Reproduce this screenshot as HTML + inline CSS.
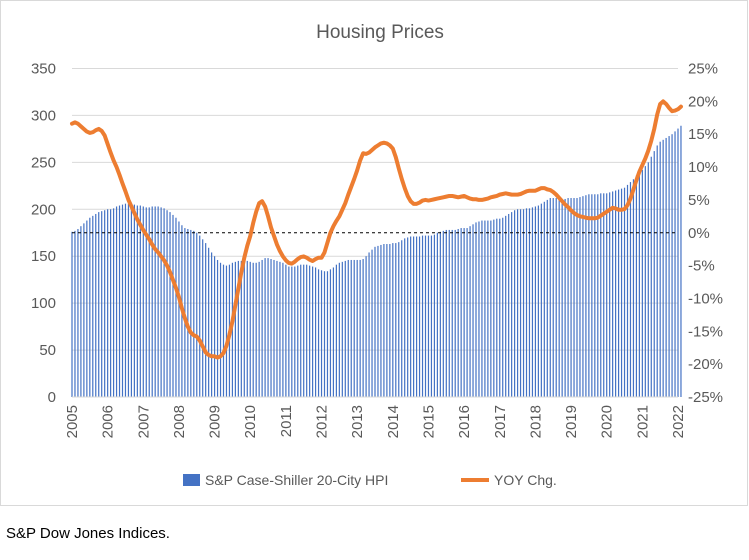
<!DOCTYPE html>
<html><head><meta charset="utf-8">
<style>
body{margin:0;background:#fff;width:749px;height:555px;overflow:hidden;font-family:"Liberation Sans",sans-serif;}
svg text{font-family:"Liberation Sans",sans-serif;}
</style></head>
<body>
<svg id="chart" width="749" height="555" viewBox="0 0 749 555" xmlns="http://www.w3.org/2000/svg">
<rect x="0.5" y="0.5" width="747" height="505" fill="#fff" stroke="#d9d9d9"/>
<text x="380" y="38" text-anchor="middle" font-size="19" fill="#595959">Housing Prices</text>
<g id="grid"></g><g id="bars"></g><g id="axes"></g><g id="line"></g>
<g>
<rect x="183" y="474" width="17" height="12" fill="#4472c4"/>
<text x="205" y="485" font-size="14" fill="#595959">S&amp;P Case-Shiller 20-City HPI</text>
<line x1="461" y1="480" x2="489" y2="480" stroke="#ed7d31" stroke-width="4"/>
<text x="494" y="485" font-size="14" fill="#595959">YOY Chg.</text>
</g>
<text x="6" y="538" font-size="15" fill="#000">S&amp;P Dow Jones Indices.</text>
</svg>
<script>
const hpi=[176,177,179,182,185,188,191,193,195,197,198,199,
200,200,201,203,204,205,206,206,206,205,204,204,
203,202,202,203,203,203,202,201,199,197,194,191,
187,183,180,179,178,177,175,172,168,164,159,154,
150,146,143,141,140,141,143,144,145,145,145,145,
144,143,143,144,146,148,148,147,146,145,144,143,
141,139,139,139,140,141,141,141,140,139,138,136,
135,134,134,136,138,141,143,144,145,146,146,146,
146,146,147,150,154,157,160,161,162,163,163,163,
164,164,165,167,169,170,171,171,171,171,172,172,
172,172,173,175,176,177,178,178,178,178,179,180,
180,180,182,184,186,187,188,188,188,188,189,190,
190,191,193,195,197,199,200,200,200,201,201,202,
203,204,206,208,210,212,212,212,211,211,211,212,
212,212,212,213,214,215,216,216,216,216,217,217,
217,218,219,220,221,222,223,226,229,232,236,239,
242,246,250,256,262,268,272,274,276,278,280,283,
286,289];
const yoy=[16.6,16.8,16.6,16.2,15.8,15.4,15.2,15.3,15.6,15.8,15.5,14.8,
13.5,12.2,11.0,10.0,8.8,7.5,6.3,5.0,4.0,3.0,2.0,1.2,
0.4,-0.3,-1.0,-1.8,-2.5,-3.0,-3.6,-4.2,-5.0,-6.0,-7.2,-8.4,
-9.8,-11.5,-13.0,-14.3,-15.2,-15.6,-15.8,-16.4,-17.3,-18.2,-18.6,-18.8,
-18.8,-19.0,-18.8,-18.3,-17.2,-15.5,-13.5,-11.0,-8.5,-6.0,-3.8,-2.0,
-0.5,1.5,3.2,4.5,4.8,4.0,2.5,0.8,-0.5,-1.8,-2.8,-3.6,
-4.2,-4.6,-4.7,-4.4,-4.0,-3.7,-3.6,-3.8,-4.1,-4.3,-4.0,-3.8,
-3.8,-3.0,-1.5,0.0,1.0,1.8,2.5,3.5,4.5,5.8,7.0,8.2,
9.5,11.0,12.1,12.0,12.2,12.6,13.0,13.3,13.6,13.7,13.6,13.3,
12.8,11.5,9.8,8.2,6.8,5.6,4.8,4.4,4.4,4.6,4.9,5.0,
4.9,5.0,5.1,5.2,5.3,5.4,5.5,5.6,5.6,5.5,5.4,5.5,
5.6,5.4,5.2,5.1,5.1,5.0,5.0,5.1,5.2,5.4,5.5,5.6,
5.8,5.9,6.0,5.9,5.8,5.8,5.8,5.9,6.1,6.3,6.4,6.4,
6.4,6.6,6.8,6.8,6.6,6.5,6.2,5.8,5.3,4.8,4.3,3.9,
3.4,3.0,2.7,2.5,2.4,2.3,2.2,2.2,2.2,2.3,2.6,2.9,
3.2,3.5,3.8,3.7,3.5,3.5,3.6,4.2,5.2,6.6,8.0,9.3,
10.3,11.3,12.5,14.0,15.8,18.0,19.6,20.0,19.6,19.0,18.5,18.6,
18.8,19.2];
const leftTicks=[0,50,100,150,200,250,300,350];
const rightTicks=["-25%","-20%","-15%","-10%","-5%","0%","5%","10%","15%","20%","25%"];
const years=[2005,2006,2007,2008,2009,2010,2011,2012,2013,2014,2015,2016,2017,2018,2019,2020,2021,2022];
const X0=72,X1=678,Y0=397,Y1=68.5;
const xs=t=>X0+(t-2005)/(2022-2005)*(X1-X0);
const yl=v=>Y0-(v/350)*(Y0-Y1);
const yr=p=>Y0-((p+25)/50)*(Y0-Y1);
const NS="http://www.w3.org/2000/svg";
function mk(tag,parent,attrs){const e=document.createElementNS(NS,tag);for(const k in attrs)e.setAttribute(k,attrs[k]);document.getElementById(parent).appendChild(e);return e;}
leftTicks.forEach(v=>{
 const g=mk('line','grid',{x1:X0,x2:X1,y1:yl(v),y2:yl(v),stroke:'#d9d9d9','stroke-width':1});
 
 
 const t=mk('text','axes',{x:X0-16,y:yl(v)+5,'text-anchor':'end','font-size':15,fill:'#595959'});
 t.textContent=v;
 
 
});
rightTicks.forEach(s=>{
 const p=parseFloat(s);
 const t=mk('text','axes',{x:X1+10,y:yr(p)+5,'text-anchor':'start','font-size':15,fill:'#595959'});
 t.textContent=s;
 
 
});
years.forEach(y=>{
 const x=xs(y);
 const t=mk('text','axes',{x:0,y:0,transform:`translate(${x+5},${Y0+8}) rotate(-90)`,'text-anchor':'end','font-size':15,fill:'#595959'});
 t.textContent=y;
 
 
});
hpi.forEach((v,i)=>{
 const x=xs(2005+i/12);
 const b=mk('rect','bars',{x:x-0.6,y:yl(v),width:1.2,height:Y0-yl(v),fill:'#4472c4'});
 
 
});
const z=mk('line','axes',{x1:X0,x2:X1,y1:yr(0),y2:yr(0),stroke:'#000','stroke-width':1,'stroke-dasharray':'3,3'});


const ax=mk('line','axes',{x1:X0,x2:X1,y1:Y0,y2:Y0,stroke:'#d9d9d9','stroke-width':1});


const d=yoy.map((p,i)=>(i?'L':'M')+xs(2005+i/12).toFixed(2)+','+yr(p).toFixed(2)).join(' ');
const ln=mk('path','line',{d:d,fill:'none',stroke:'#ed7d31','stroke-width':4,'stroke-linejoin':'round','stroke-linecap':'round'});


</script>
</body></html>
